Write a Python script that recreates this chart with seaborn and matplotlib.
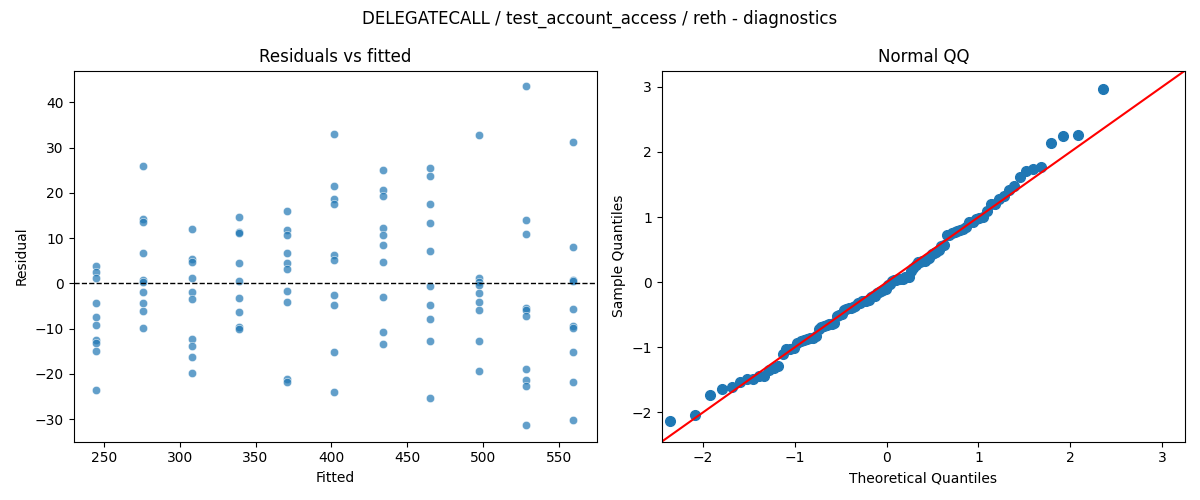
import numpy as np
import pandas as pd
import matplotlib
matplotlib.use("Agg")
import matplotlib.pyplot as plt
import seaborn as sns
from statistics import NormalDist

fitted_levels = [245, 276, 308, 339, 371, 402, 434, 465, 497, 528, 559]
residual_groups = [
    [3.8, 2.5, 1.2, -4.3, -7.4, -9.2, -12.6, -13.2, -14.9, -23.6],
    [25.9, 14.3, 13.5, 6.6, 0.7, 0.2, -2.0, -4.3, -6.2, -9.8],
    [11.9, 5.3, 4.6, 1.1, -1.9, -3.4, -12.2, -13.8, -16.2, -19.8],
    [14.6, 11.4, 11.2, 4.4, 0.6, -3.2, -6.3, -9.6, -10.2],
    [15.9, 11.7, 10.6, 6.8, 4.4, 3.1, -1.7, -4.1, -21.2, -21.9],
    [33.0, 21.6, 18.6, 17.6, 6.2, 5.2, -2.5, -4.7, -15.2, -24.1],
    [25.0, 20.6, 19.3, 12.3, 10.6, 8.4, 4.7, -3.1, -10.7, -13.4],
    [25.5, 23.7, 17.6, 13.4, 7.1, -0.7, -4.7, -7.8, -12.7, -25.4],
    [32.8, 1.1, 0.4, -0.4, -2.2, -4.2, -5.9, -12.8, -19.3],
    [43.5, 14.1, 11.0, -5.4, -5.9, -7.3, -19.0, -21.3, -22.6, -31.4],
    [31.2, 8.0, 0.7, 0.5, -5.6, -9.4, -9.9, -15.2, -21.9, -30.1],
]

rows = []
for f, group in zip(fitted_levels, residual_groups):
    for r in group:
        rows.append({"fitted": f, "resid": r})
df = pd.DataFrame(rows)

# standardized residuals vs normal quantiles
resid = df["resid"].to_numpy()
sample_q = np.sort((resid - resid.mean()) / resid.std(ddof=1))
n = len(sample_q)
theo_q = np.array([NormalDist().inv_cdf(i / (n + 1)) for i in range(1, n + 1)])

fig, (ax1, ax2) = plt.subplots(1, 2, figsize=(12, 5), dpi=100)

sns.scatterplot(data=df, x="fitted", y="resid", ax=ax1, alpha=0.7)
ax1.axhline(0, color="k", linestyle="--", linewidth=1)
ax1.set_xlabel("Fitted")
ax1.set_ylabel("Residual")
ax1.set_title("Residuals vs fitted")
ax1.set_xlim(230, 575)
ax1.set_ylim(-35, 47)

ax2.plot(theo_q, sample_q, "o", color="C0", markersize=7)
ax2.set_xlim(-2.45, 3.25)
ax2.set_ylim(-2.45, 3.25)
ax2.axline((0, 0), slope=1, color="red")
ax2.set_xlabel("Theoretical Quantiles")
ax2.set_ylabel("Sample Quantiles")
ax2.set_title("Normal QQ")

fig.suptitle("DELEGATECALL / test_account_access / reth - diagnostics")
plt.tight_layout()
plt.savefig("out.png")
